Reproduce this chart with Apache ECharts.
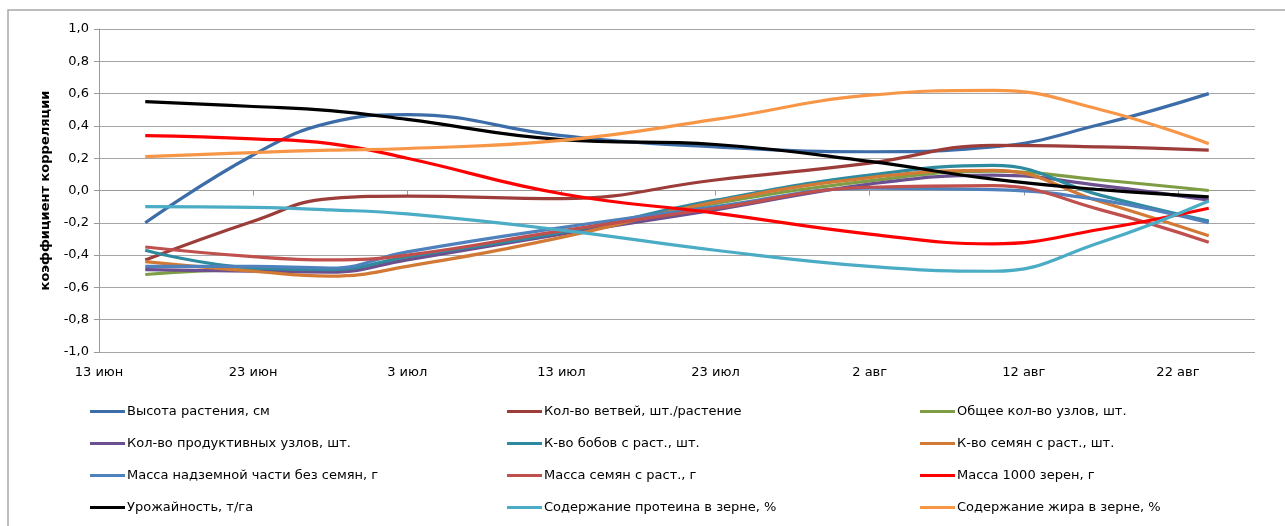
<!DOCTYPE html>
<html>
<head>
<meta charset="utf-8">
<script src="https://cdn.jsdelivr.net/npm/echarts@6/dist/echarts.min.js"></script>
<style>
  html, body { margin: 0; padding: 0; background: #fff; }
  #chart { width: 1285px; height: 526px; }
</style>
</head>
<body>
<div id="chart"></div>
<script>
// Sampling dates (day.month), axis start and tick labels
const sampleDates = ['16.06', '23.06', '28.06', '03.07', '13.07', '23.07', '02.08', '10.08', '17.08', '24.08'];
const axisStart = '13.06';
const tickLabels = ['13 июн', '23 июн', '3 июл', '13 июл', '23 июл', '2 авг', '12 авг', '22 авг'];

// Correlation coefficients per trait
const vysota      = [-0.20, 0.22, 0.42, 0.47, 0.34, 0.27, 0.24, 0.27, 0.41, 0.60];
const vetvei      = [-0.43, -0.19, -0.05, -0.035, -0.05, 0.065, 0.17, 0.28, 0.27, 0.25];
const uzlyObsh    = [-0.52, -0.49, -0.49, -0.42, -0.26, -0.08, 0.06, 0.12, 0.065, 0.00];
const uzlyProd    = [-0.49, -0.50, -0.505, -0.43, -0.27, -0.12, 0.04, 0.095, 0.03, -0.06];
const boby        = [-0.37, -0.48, -0.49, -0.41, -0.26, -0.06, 0.095, 0.155, -0.03, -0.19];
const semena      = [-0.44, -0.50, -0.53, -0.47, -0.29, -0.07, 0.08, 0.125, -0.07, -0.28];
const massaNadz   = [-0.47, -0.47, -0.48, -0.38, -0.23, -0.10, 0.015, 0.005, -0.06, -0.20];
const massaSemyan = [-0.35, -0.41, -0.43, -0.40, -0.25, -0.11, 0.02, 0.03, -0.12, -0.32];
const massa1000   = [0.34, 0.32, 0.29, 0.20, -0.02, -0.14, -0.27, -0.33, -0.24, -0.11];
const urozhai     = [0.55, 0.52, 0.495, 0.44, 0.315, 0.285, 0.18, 0.07, 0.005, -0.04];
const protein     = [-0.10, -0.105, -0.12, -0.145, -0.245, -0.37, -0.47, -0.50, -0.32, -0.065];
const zhir        = [0.21, 0.235, 0.25, 0.26, 0.31, 0.44, 0.59, 0.62, 0.50, 0.29];

const seriesNames = [
  'Высота растения, см', 'Кол-во ветвей, шт./растение', 'Общее кол-во узлов, шт.',
  'Кол-во продуктивных узлов, шт.', 'К-во бобов с раст., шт.', 'К-во семян с раст., шт.',
  'Масса надземной части без семян, г', 'Масса семян с раст., г', 'Масса 1000 зерен, г',
  'Урожайность, т/га', 'Содержание протеина в зерне, %', 'Содержание жира в зерне, %'
];
const seriesValues = [vysota, vetvei, uzlyObsh, uzlyProd, boby, semena,
  massaNadz, massaSemyan, massa1000, urozhai, protein, zhir];
const seriesColors = ['#3D6DA8', '#9C3D3A', '#7E9D45', '#6B4F8E', '#2E8A9E', '#D27A35',
  '#4F81BD', '#C0504D', '#FF0000', '#000000', '#4BACC6', '#F79646'];

// day-of-season offset counted from the axis start
const monthStart = { 6: 0, 7: 30, 8: 61 };
function dayIndex(s) {
  const [d, m] = s.split('.').map(Number);
  return monthStart[m] + d;
}
const x0 = dayIndex(axisStart);
const xs = sampleDates.map(s => dayIndex(s) - x0);
const tickValues = tickLabels.map((_, i) => i * 10);

const FONT = 'DejaVu Sans';

const series = seriesNames.map((name, i) => ({
  name,
  type: 'line',
  smooth: 0.45,
  showSymbol: false,
  symbol: 'none',
  lineStyle: { width: 3.2, color: seriesColors[i] },
  itemStyle: { color: seriesColors[i] },
  emphasis: { disabled: true },
  data: xs.map((x, k) => [x, seriesValues[i][k]])
}));

function legendColumn(left, idx) {
  return {
    orient: 'vertical',
    left, top: 405,
    padding: 0,
    itemWidth: 35, itemHeight: 3,
    itemGap: 19,
    icon: 'rect',
    selectedMode: false,
    textStyle: { fontFamily: FONT, fontSize: 13, color: '#000', padding: [0, 0, 0, -3] },
    data: idx.map(k => seriesNames[k])
  };
}

const chart = echarts.init(document.getElementById('chart'), null, { renderer: 'canvas' });
chart.setOption({
  animation: false,
  backgroundColor: '#fff',
  graphic: [{
    type: 'rect', silent: true,
    shape: { x: 8, y: 10, width: 1300, height: 540 },
    style: { fill: 'none', stroke: '#A8A8A8', lineWidth: 1.5 }
  }],
  grid: { left: 99, top: 29, width: 1156, height: 323 },
  legend: [
    legendColumn(90, [0, 3, 6, 9]),
    legendColumn(507, [1, 4, 7, 10]),
    legendColumn(920, [2, 5, 8, 11])
  ],
  xAxis: {
    type: 'value',
    min: 0, max: 75,
    interval: 10,
    splitLine: { show: false },
    axisLine: { show: true, lineStyle: { color: '#999', width: 1 } },
    axisTick: { show: true, length: 5, customValues: tickValues, lineStyle: { color: '#999' } },
    axisLabel: {
      customValues: tickValues,
      margin: 14,
      fontFamily: FONT, fontSize: 13, color: '#000',
      formatter: v => tickLabels[Math.round(v / 10)] || ''
    }
  },
  yAxis: {
    type: 'value',
    min: -1, max: 1, interval: 0.2,
    name: 'коэффициент корреляции',
    nameLocation: 'middle',
    nameRotate: 90,
    nameGap: 47,
    nameTextStyle: { fontFamily: FONT, fontSize: 13, fontWeight: 'bold', color: '#000' },
    axisLine: { show: true, lineStyle: { color: '#999', width: 1 } },
    axisTick: { show: true, length: 5, inside: false, lineStyle: { color: '#999' } },
    splitLine: { show: true, lineStyle: { color: '#A6A6A6', width: 1 } },
    axisLabel: {
      margin: 10,
      fontFamily: FONT, fontSize: 13, color: '#000',
      formatter: v => v.toFixed(1).replace('.', ',')
    }
  },
  series
});
</script>
</body>
</html>
